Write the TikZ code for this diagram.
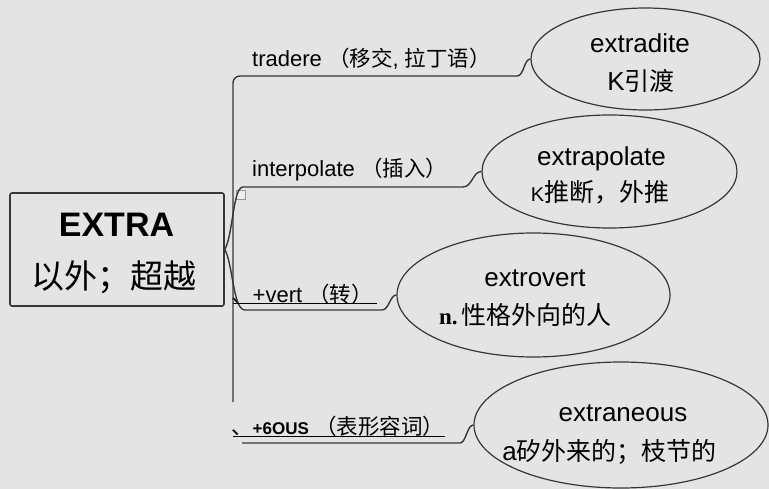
\documentclass[tikz,border=0pt]{standalone}
\usepackage{fontspec}
\setmainfont{Liberation Sans}
\newfontfamily\zhfont{Noto Sans CJK SC}
\newfontfamily\nserif{Liberation Serif}
\newcommand{\zh}[1]{{\zhfont #1}}
\newcommand{\zhlab}[1]{{\fontsize{21.5}{26}\selectfont\zhfont #1}}
\usetikzlibrary{shapes.geometric, positioning}
\definecolor{paper}{RGB}{228,228,228}
\definecolor{linegray}{RGB}{55,55,55}
\definecolor{markgray}{RGB}{150,150,150}
\tikzset{
  rootbox/.style={rectangle, rounded corners=2pt, draw=linegray, line width=1.6pt,
    minimum width=214pt, minimum height=113pt, inner sep=0pt},
  wordbubble/.style={ellipse, draw=linegray, line width=1.2pt, inner sep=0pt},
  wordtext/.style={anchor=base, inner sep=0pt, font=\fontsize{26}{30}\selectfont},
  meantext/.style={anchor=base, inner sep=0pt, font=\fontsize{25}{30}\selectfont},
  branchlabel/.style={anchor=base west, inner sep=0pt, font=\fontsize{22}{26}\selectfont},
  branch/.style={draw=linegray, line width=1.4pt},
  underline/.style={draw=black, line width=1pt},
}
\begin{document}
\begin{tikzpicture}[x=1pt, y=-1pt]
  \fill[paper] (0,0) rectangle (769,489);
  \useasboundingbox (0,0) rectangle (769,489);

  % root
  \node[rootbox] (root) at (117,249.5) {};
  \node[anchor=base, inner sep=0pt, font=\fontsize{34}{40}\selectfont\bfseries]
    (rootname) at (116.5,236.5) {EXTRA};
  \node[anchor=base, inner sep=0pt, font=\fontsize{33}{40}\selectfont]
    (rootmeaning) at (113.5,289) {\zh{以外；超越}};

  % words
  \node[wordbubble, minimum width=229pt, minimum height=102pt] (e1) at (645.5,59) {};
  \node[wordbubble, minimum width=255pt, minimum height=113pt] (e2) at (609.5,171.5) {};
  \node[wordbubble, minimum width=273pt, minimum height=124pt] (e3) at (533.5,295) {};
  \node[wordbubble, minimum width=294pt, minimum height=126pt] (e4) at (621,425) {};

  \node[wordtext] (e1word) at (640,53) {extradite};
  \node[meantext] (e1mean) at (641,91) {{\fontsize{26}{30}\selectfont K}\zh{引渡}};
  \node[wordtext] (e2word) at (601.5,166) {extrapolate};
  \node[meantext] (e2mean) at (600,202) {{\fontsize{20}{30}\selectfont K}\zh{推断，外推}};
  \node[wordtext] (e3word) at (535,287) {extrovert};
  \node[meantext] (e3mean) at (525.5,325) {{\nserif\bfseries\fontsize{23}{30}\selectfont n.}\,\zh{性格外向的人}};
  \node[wordtext] (e4word) at (623,421.5) {extraneous};
  \node[meantext] (e4mean) at (609.5,460) {{\fontsize{26}{30}\selectfont a}\zh{矽外来的；枝节的}};

  % branch labels
  \node[branchlabel] (lab1) at (252,67) {tradere \zhlab{（移交}, \zhlab{拉丁语）}};
  \node[branchlabel] (lab2) at (252,177) {interpolate \zhlab{（插入）}};
  \node[branchlabel] (lab3) at (231,302.5) {\zhlab{、}+vert \zhlab{（转）}};
  \node[branchlabel] (lab4) at (231,434)
    {\zhlab{、}{\bfseries\fontsize{17}{26}\selectfont +6OUS} \zhlab{（表形容词）}};
  \node[rectangle, draw=markgray, fill=paper!60!white, line width=0.6pt,
        minimum size=9pt, inner sep=0pt] (mark) at (240.5,195) {};

  % trunk and branches
  \coordinate (t1) at (233,402);
  \coordinate (k1) at (517,76);
  \coordinate (j2) at (243,187);
  \coordinate (k2) at (463,187);
  \coordinate (j3) at (245,310);
  \coordinate (k3) at (382,310);
  \coordinate (j4) at (242,443);
  \coordinate (k4) at (460,443);

  \draw[branch, rounded corners=7pt] (t1) |- (k1);
  \draw[branch] (k1) .. controls (524,76) and (524,59) .. (e1.west);
  \draw[branch] (root.east) .. controls (233,235) and (233,187) .. (j2) -- (k2)
    .. controls (472,187) and (473,171.5) .. (e2.west);
  \draw[branch] (root.east) .. controls (233,264) and (233,310) .. (j3) -- (k3)
    .. controls (389,310) and (390,295) .. (e3.west);
  \draw[branch] (j4) -- (k4) .. controls (466,443) and (467,425) .. (e4.west);

  % underlines
  \coordinate (u3a) at (233,304);
  \coordinate (u3b) at (377,304);
  \coordinate (u4a) at (233,436.5);
  \coordinate (u4b) at (445,436.5);
  \draw[underline] (u3a) -- (u3b);
  \draw[underline] (u4a) -- (u4b);
\end{tikzpicture}
\end{document}
